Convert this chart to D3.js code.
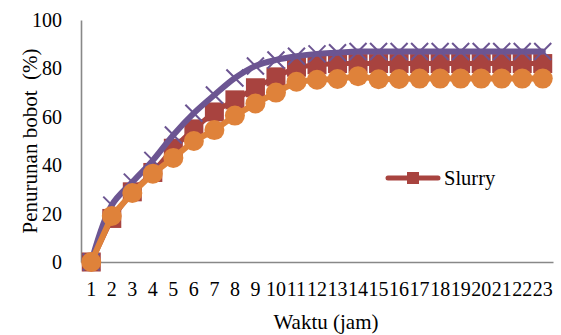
<!DOCTYPE html>
<html><head><meta charset="utf-8">
<script src="https://cdn.jsdelivr.net/npm/d3@7"></script>
<style>body{margin:0;background:#fff}svg{display:block}svg text{font-family:"Liberation Serif","Times New Roman",Times,"DejaVu Serif",serif !important;fill:#000}</style>
</head><body>
<svg id="c" width="561" height="335"></svg>
<script>
const categories = ["1","2","3","4","5","6","7","8","9","10","11","12","13","14","15","16","17","18","19","20","21","22","23"];
const seriesSlurry = [0,18,29,37,47,55,62,67,72,76.5,80.5,81.5,82,82,82,82,82,82,82,82,82,82,82];
const seriesPurple = [0,23.5,33,42,52.5,61.5,69,76,81,83.5,85,86,86.5,87,87,87,87,87,87,87,87,87,87];
const seriesOrange = [0,19,28.5,36.5,43,50,54.5,60.5,65.5,70,74.5,75.3,75.6,76.8,75.5,75.6,75.8,75.8,75.8,75.8,75.8,75.8,75.8];
const yTicks = [0,20,40,60,80,100];
const legendLabel = "Slurry";
const yTitle = "Penurunan bobot  (%)";
const xTitle = "Waktu (jam)";

const FONT = "'Liberation Serif','Times New Roman',Times,'DejaVu Serif',serif";
const svg = d3.select("#c");
const m = {l:81, r:8, t:20, b:73};
const W = 561, H = 335;
const x = d3.scaleBand().domain(categories).range([m.l, W - m.r]);
const y = d3.scaleLinear().domain([0,100]).range([H - m.b, m.t]);
const cx = d => x(d) + x.bandwidth()/2;

// axes
const xAxis = svg.append("g").attr("transform", `translate(0,${y(0)})`)
  .call(d3.axisBottom(x).tickSize(0).tickPadding(20));
xAxis.attr("font-family",FONT).attr("font-size",20);
xAxis.select(".domain").attr("stroke","#888").attr("stroke-width",1.6);
const yAxis = svg.append("g").attr("transform", `translate(${m.l},0)`)
  .call(d3.axisLeft(y).tickValues(yTicks).tickSize(0).tickPadding(19));
yAxis.attr("font-family",FONT).attr("font-size",20);
yAxis.select(".domain").attr("stroke","#888").attr("stroke-width",1.6);

const colRed = "#A8433F", colPurple = "#6C5592", colOrange = "#DF823A";

// red series
const lineStraight = d3.line().x((d,i)=>cx(categories[i])).y(d=>y(d));
svg.append("path").attr("d", lineStraight(seriesSlurry)).attr("fill","none")
  .attr("stroke",colRed).attr("stroke-width",5).attr("stroke-linejoin","round");
svg.append("g").selectAll("rect").data(seriesSlurry).join("rect")
  .attr("x",(d,i)=>cx(categories[i])-9.5).attr("y",d=>y(d)-9.5)
  .attr("width",19).attr("height",19).attr("fill",colRed);

// purple series
const lineSmooth = d3.line().x((d,i)=>cx(categories[i])).y(d=>y(d)).curve(d3.curveCatmullRom.alpha(0.5));
svg.append("path").attr("d", lineSmooth(seriesPurple)).attr("fill","none")
  .attr("stroke",colPurple).attr("stroke-width",6).attr("stroke-linecap","round");
const s = 8.5;
svg.append("g").selectAll("path").data(seriesPurple).join("path")
  .attr("d",(d,i)=>{const px=cx(categories[i]), py=y(d);
    return `M${px-s},${py-s}L${px+s},${py+s}M${px-s},${py+s}L${px+s},${py-s}`;})
  .attr("stroke",colPurple).attr("stroke-width",2).attr("fill","none");

// orange series
svg.append("path").attr("d", lineStraight(seriesOrange)).attr("fill","none")
  .attr("stroke",colOrange).attr("stroke-width",6).attr("stroke-linejoin","round");
svg.append("g").selectAll("circle").data(seriesOrange).join("circle")
  .attr("cx",(d,i)=>cx(categories[i])).attr("cy",d=>y(d)).attr("r",10).attr("fill",colOrange);

// legend
const lg = svg.append("g");
lg.append("line").attr("x1",388).attr("x2",438).attr("y1",178).attr("y2",178)
  .attr("stroke",colRed).attr("stroke-width",5).attr("stroke-linecap","round");
lg.append("rect").attr("x",407).attr("y",172).attr("width",12).attr("height",12).attr("fill",colRed);
lg.append("text").attr("x",444).attr("y",185).attr("font-family",FONT).attr("font-size",20.5).text(legendLabel);

// titles
svg.append("text").attr("transform",`translate(37,${141}) rotate(-90)`).attr("text-anchor","middle")
  .attr("font-family",FONT).attr("font-size",21).style("white-space","pre").text(yTitle);
svg.append("text").attr("x",326).attr("y",329).attr("text-anchor","middle")
  .attr("font-family",FONT).attr("font-size",21).text(xTitle);
</script>
</body></html>
